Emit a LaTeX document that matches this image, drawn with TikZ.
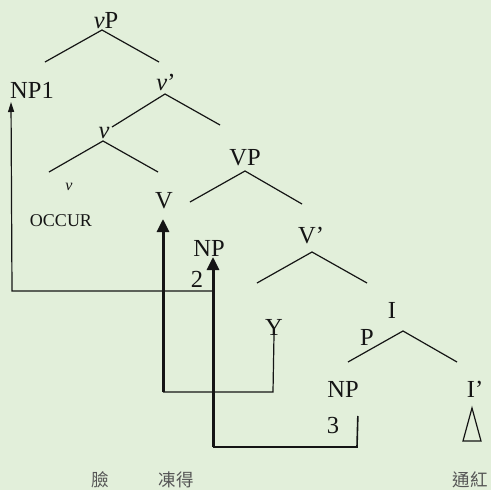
\documentclass[tikz,border=0pt]{standalone}
\usepackage{fontspec}
\setmainfont{Liberation Serif}
\newfontfamily\cjk{Noto Sans CJK TC}
\usepackage{tikz}
\usetikzlibrary{arrows.meta,calc}
\definecolor{paleGreen}{HTML}{E2EFDA}
\definecolor{glossGray}{HTML}{555555}
\definecolor{inkBlack}{HTML}{151515}

\begin{document}
\begin{tikzpicture}[x=1pt,y=-1pt,
    lbl/.style={inner sep=0pt,anchor=base,text=inkBlack,font=\fontsize{24.5}{26}\selectfont},
    lblsmall/.style={inner sep=0pt,anchor=base,text=inkBlack,font=\fontsize{18}{20}\selectfont},
    gloss/.style={inner sep=0pt,anchor=base,text=glossGray,font=\cjk\fontsize{17.5}{19}\selectfont},
    branch/.style={draw=inkBlack,line width=1.2pt},
    chain/.style={draw=inkBlack,line width=1.6pt},
    move/.style={draw=inkBlack,line width=3pt,-{Triangle[length=13pt,width=12pt]}}]
        %Frame
        \fill[paleGreen] (0,0) rectangle (491,490);
        \useasboundingbox (0,0) rectangle (491,490);
        %Labels
        \node[lbl] (vP) at (106,28) {\textit{v}P};
        \node[lbl] (np1) at (32,98) {NP1};
        \node[lbl] (vbar) at (166,90) {\textit{v}’};
        \node[lbl] (vhead) at (104,138) {\textit{v}};
        \node[lblsmall,font=\itshape\fontsize{16}{18}\selectfont] (vlow) at (69,190) {v};
        \node[lblsmall] (occur) at (61,226) {OCCUR};
        \node[lbl] (verb) at (164,208) {V};
        \node[lbl] (vp) at (245,165) {VP};
        \node[lbl] (vbar2) at (311,243) {V’};
        \node[lbl] (np2) at (209,256) {NP};
        \node[lbl] (two) at (197,287) {2};
        \node[lbl] (yy) at (274,335) {Y};
        \node[lbl] (ii) at (392,318) {I};
        \node[lbl] (pp) at (367,345) {P};
        \node[lbl] (np3) at (343,397) {NP};
        \node[lbl] (three) at (333,433) {3};
        \node[lbl] (ibar) at (475,397) {I’};
        %Glosses
        \node[gloss] (lian) at (100,486) {臉};
        \node[gloss] (dongde) at (176,486) {凍得};
        \node[gloss] (tonghong) at (470,486) {通紅};
        %Branches
        \draw[branch] (45,62) -- (102,30) -- (159,62);
        \draw[branch] (112,127) -- (165,94) -- (220,125);
        \draw[branch] (49,172) -- (103,141) -- (158,172);
        \draw[branch] (190,202) -- (245,171) -- (302,204);
        \draw[branch] (257,283) -- (312,252) -- (367,283);
        \draw[branch] (348,362) -- (403,331) -- (457,362);
        \draw[branch,line join=miter] (472,408) -- (481,441) -- (463,441) -- cycle;
        %Corners
        \coordinate (c1) at (273,392);
        \coordinate (c2) at (163,392);
        \coordinate (c3) at (357,447);
        \coordinate (c4) at (213,447);
        \coordinate (c5) at (213,291);
        \coordinate (c6) at (12,291);
        %Movement
        \draw[branch,-{Triangle[length=10pt,width=6pt]}] (c5) -- (c6) -- ($(np1.base west)+(1,4)$);
        \draw[branch] (yy.base) -- (c1) -- (c2);
        \draw[move] (c2) -- ($(verb.base)+(-1,11)$);
        \draw[chain] ($(np3.base east)+(-1,19)$) -- (c3) -- (c4);
        \draw[move] (c4) -- ($(np2.base)+(4,1)$);
\end{tikzpicture}
\end{document}
